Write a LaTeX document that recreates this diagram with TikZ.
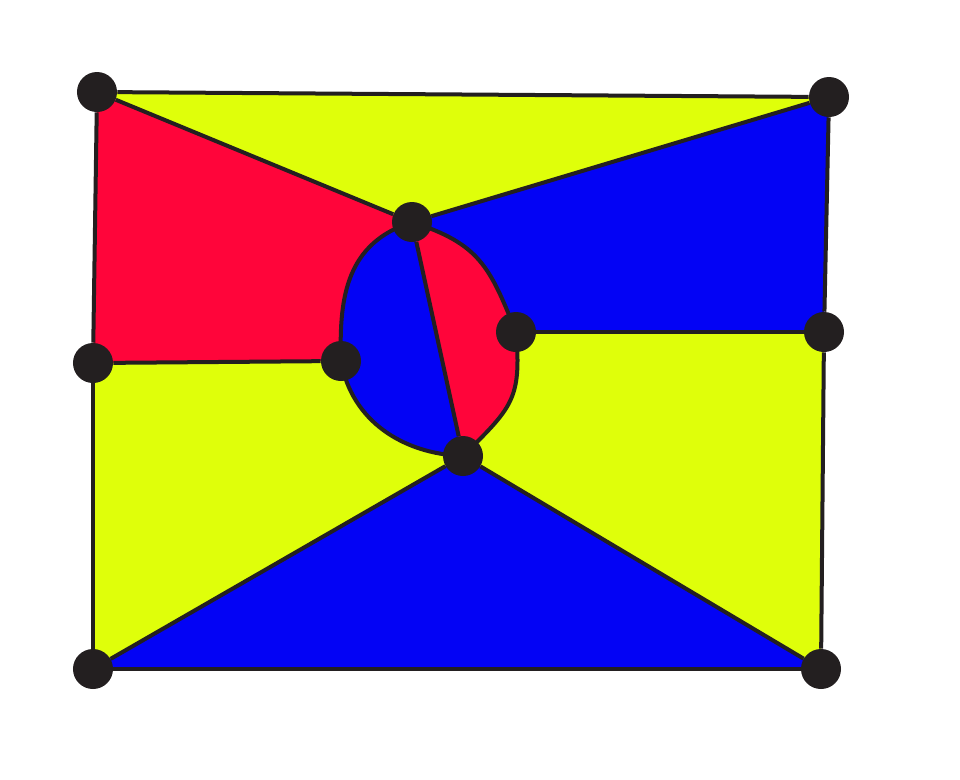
\documentclass[tikz,border=0pt]{standalone}
\usepackage{xcolor}
\usepackage{tikz}
\usetikzlibrary{positioning, backgrounds}
\definecolor{mapyellow}{RGB}{223,255,10}
\definecolor{mapred}{RGB}{255,5,58}
\definecolor{mapblue}{RGB}{3,3,245}
\definecolor{dotblack}{RGB}{35,31,32}
\tikzset{
  vertex/.style={circle, fill=dotblack, minimum size=1cm, inner sep=0pt},
  border/.style={line width=0.1cm, draw=dotblack, line join=round},
  yellowface/.style={fill=mapyellow},
  redface/.style={fill=mapred},
  blueface/.style={fill=mapblue},
  arcTL/.style={out=198, in=92, looseness=1.1},
  arcBL/.style={out=-80, in=178},
  arcTR/.style={out=-18, in=112, looseness=1.2},
  arcTRback/.style={out=112, in=-18, looseness=1.2},
  arcBR/.style={out=-85, in=45, looseness=1.3},
  arcBRback/.style={out=45, in=-85, looseness=1.3},
}

\begin{document}
\begin{tikzpicture}[x=0.025cm, y=-0.025cm]
  \useasboundingbox (0,0) rectangle (960,779);

  % Outer corners and side points
  \node[vertex] (tl) at (97,92) {};
  \node[vertex] (tr) at (829,97) {};
  \node[vertex] (ml) at (93,363) {};
  \node[vertex] (mr) at (824,332) {};
  \node[vertex] (bl) at (93,669) {};
  \node[vertex] (br) at (821,669) {};

  % Points on the oval
  \node[vertex] (top) at (412,222) {};
  \node[vertex] (il) at (341,361) {};
  \node[vertex] (ir) at (516,332) {};
  \node[vertex] (bot) at (463,456) {};

  \begin{scope}[on background layer]
    % Faces
    \fill[yellowface] (tl.center) -- (tr.center) -- (top.center) -- cycle;
    \fill[redface] (tl.center) -- (top.center) to[arcTL] (il.center)
      -- (ml.center) -- cycle;
    \fill[blueface] (tr.center) -- (mr.center) -- (ir.center)
      to[arcTRback] (top.center) -- cycle;
    \fill[yellowface] (ml.center) -- (il.center) to[arcBL] (bot.center)
      -- (bl.center) -- cycle;
    \fill[yellowface] (mr.center) -- (br.center) -- (bot.center)
      to[arcBRback] (ir.center) -- cycle;
    \fill[blueface] (bl.center) -- (bot.center) -- (br.center) -- cycle;
    \fill[blueface] (top.center) to[arcTL] (il.center) to[arcBL] (bot.center)
      -- cycle;
    \fill[redface] (top.center) -- (bot.center) to[arcBRback] (ir.center)
      to[arcTRback] (top.center) -- cycle;

    % Edges
    \draw[border] (tl) -- (tr); \draw[border] (tr) -- (mr);
    \draw[border] (mr) -- (br); \draw[border] (br) -- (bl);
    \draw[border] (bl) -- (ml); \draw[border] (ml) -- (tl);
    \draw[border] (tl) -- (top); \draw[border] (tr) -- (top);
    \draw[border] (ml) -- (il); \draw[border] (mr) -- (ir);
    \draw[border] (bl) -- (bot); \draw[border] (br) -- (bot);
    \draw[border] (top) -- (bot);
    \draw[border] (top.center) to[arcTL] (il.center);
    \draw[border] (il.center) to[arcBL] (bot.center);
    \draw[border] (top.center) to[arcTR] (ir.center);
    \draw[border] (ir.center) to[arcBR] (bot.center);
  \end{scope}
\end{tikzpicture}
\end{document}
